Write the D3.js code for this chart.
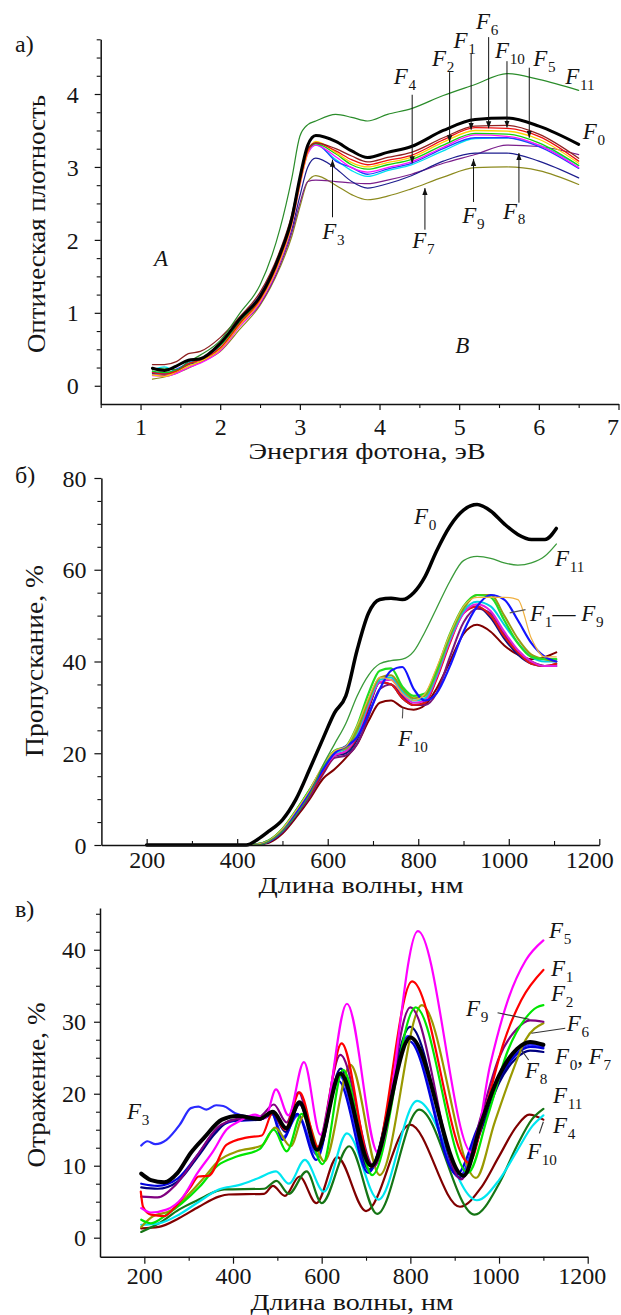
<!DOCTYPE html>
<html><head><meta charset="utf-8">
<script src="https://cdn.jsdelivr.net/npm/d3@7/dist/d3.min.js"></script>
<style>
html,body{margin:0;padding:0;background:#fff;}
svg{display:block;}
</style></head>
<body>
<svg id="chart" width="621" height="1315"></svg>
<script>
// ================= Panel а: optical density vs photon energy =================
const aEnergy = [1.15,1.3,1.45,1.6,1.75,2.0,2.25,2.5,2.75,2.9,3.0,3.1,3.2,3.45,3.65,3.85,4.1,4.4,4.8,5.2,5.6,6.0,6.5];
const aF0  = [0.24,0.21,0.27,0.35,0.37,0.58,0.92,1.22,1.8,2.3,2.85,3.3,3.43,3.35,3.22,3.13,3.2,3.28,3.5,3.65,3.67,3.56,3.31];
const aF11 = [0.22,0.24,0.22,0.33,0.42,0.62,1.0,1.38,2.15,2.85,3.42,3.58,3.63,3.72,3.68,3.63,3.72,3.8,3.98,4.13,4.28,4.2,4.05];
const aF10 = [0.29,0.29,0.33,0.44,0.47,0.66,0.95,1.28,1.85,2.35,2.85,3.25,3.33,3.25,3.15,3.07,3.13,3.2,3.4,3.56,3.57,3.45,3.12];
const aF1  = [0.18,0.16,0.2,0.3,0.35,0.52,0.86,1.18,1.75,2.25,2.78,3.22,3.33,3.22,3.1,3.03,3.09,3.16,3.37,3.54,3.53,3.42,3.08];
const aF6  = [0.15,0.13,0.19,0.27,0.33,0.5,0.84,1.16,1.72,2.22,2.75,3.2,3.35,3.2,3.06,3.0,3.06,3.13,3.34,3.5,3.49,3.38,3.05];
const aF2  = [0.2,0.18,0.21,0.3,0.36,0.55,0.88,1.2,1.76,2.27,2.8,3.22,3.32,3.18,3.03,2.97,3.03,3.1,3.3,3.46,3.45,3.33,3.02];
const aF5  = [0.14,0.13,0.17,0.25,0.31,0.48,0.82,1.14,1.7,2.2,2.74,3.18,3.3,3.14,2.99,2.93,2.99,3.07,3.27,3.44,3.42,3.3,2.99];
const aF4  = [0.22,0.26,0.2,0.33,0.36,0.56,0.9,1.2,1.77,2.26,2.78,3.2,3.3,3.1,2.95,2.87,2.95,3.03,3.22,3.39,3.4,3.3,3.02];
const aF3  = [0.19,0.17,0.23,0.31,0.36,0.55,0.92,1.25,1.82,2.3,2.8,3.22,3.32,3.08,2.99,2.9,2.97,3.05,3.25,3.4,3.4,3.28,2.98];
const aF8  = [0.17,0.16,0.2,0.29,0.33,0.5,0.85,1.15,1.7,2.15,2.6,3.0,3.12,2.98,2.8,2.71,2.77,2.88,3.08,3.19,3.19,3.08,2.85];
const aF9  = [0.15,0.14,0.18,0.27,0.32,0.5,0.82,1.12,1.65,2.1,2.5,2.8,2.82,2.8,2.78,2.77,2.82,2.9,3.05,3.17,3.3,3.28,3.17];
const aF7  = [0.09,0.12,0.17,0.24,0.32,0.47,0.78,1.1,1.62,2.05,2.45,2.8,2.88,2.75,2.62,2.55,2.6,2.7,2.86,2.99,3.0,2.95,2.76];
const aXTicks = [1,2,3,4,5,6,7];
const aYTicks = [0,1,2,3,4];

// ================= Panel б: transmission vs wavelength =================
const bWave = [200,420,445,470,500,530,560,590,615,640,665,690,715,740,765,790,815,840,870,900,930,960,990,1020,1050,1080,1105];
const bF0  = [0,0,1.2,3,5.5,10,16.5,23.3,28.8,32.5,42.5,50.5,53.5,53.8,53.5,55,58.5,64,69.5,73,74.2,72.8,70,67.7,66.6,66.6,69];
const bF11 = [0,0,0,0.8,3,6.5,11,17.5,22,26.5,32.5,37,39.5,40.2,40.5,42.2,46.5,51.5,57.5,62,62.9,62.5,61.5,61,61.5,63,65.6];
const bF2  = [0,0,0.2,1,3.5,7.5,12,17,20.5,21.5,26,33,38,38.5,34.5,32.5,33,38,46,52,54.5,54,49,44,41,40.5,40.5];
const bF3  = [0,0,0.1,0.8,3,7,11.5,16.5,20,21.5,23.5,28.5,34,38,38.8,34,31.5,33,39,46.5,52,54.5,53.5,49,44,41,40];
const bF6  = [0,0,0.2,1,3.5,7.5,12,17.5,20.5,21.5,26,32,36.5,36,33,31.5,33,38.5,46,52,54,54,54,53.5,45,41,41];
const bF7  = [0,0,0.2,1,3.5,7.5,12,17,20.5,21,25,31.5,36.5,37,34,32,32.5,37.5,45.5,51.5,54.5,54.5,50,45,41.5,40.5,40];
const bF4  = [0,0,0.2,1,3.5,7.5,12,17,20,21,24.5,31,36,36.5,33.5,31.5,32,37,45,51,53,52,48,44,41,40,40];
const bF5  = [0,0,0.1,0.8,3.2,7,11.5,16.5,19.5,20.5,24,30.5,35.5,36,33,31,31.5,36.5,44.5,50.5,52.5,51,46.5,42.5,40,39,39];
const bF1  = [0,0,0.1,0.8,3,6.8,11,16,19.5,20.5,23.5,30,35.5,35,32,30.5,31,36,44,50.5,52,50,45.5,42,39.5,39,39.5];
const bF8  = [0,0,0.1,0.7,3,6.5,11,16,19.5,20,23,29.5,35.5,35,32,30.5,31,36.5,44.5,51,52,49.5,45,41.5,39.5,39,39];
const bF9  = [0,0,0.1,0.7,2.8,6.5,10.5,15.5,19,19.5,22,28,34,35,32.5,30.5,30.5,33,41,48.5,51.5,50.5,46,42,40,39,39.5];
const bF10 = [0,0,0.1,0.5,2.5,6,10,14.5,16.5,19,22,27,31,31.5,30,29.5,30.5,34,40,46,48,46.5,43.5,41.5,40.5,41,42];
const bXTicks = [200,400,600,800,1000,1200];
const bYTicks = [0,20,40,60,80];

// ================= Panel в: reflection vs wavelength ([nm, %]) =================
const cF5  = [[193,4.1],[215,3.5],[250,3.9],[285,5.5],[320,9],[355,12],[385,15],[415,16.2],[450,17.1],[472,16.6],[497,20.6],[525,17],[560,24.4],[597,14.3],[657,32.5],[727,11.8],[817,42.6],[939,11.8],[980,24],[1020,33],[1060,38.5],[1100,41.3]];
const cF1  = [[192,6.4],[197,4.3],[215,3.2],[245,3],[270,4.3],[305,7.1],[322,8.5],[345,8.6],[385,12.9],[430,13.9],[465,14.2],[490,17.4],[517,15],[550,20.2],[592,12.6],[645,27],[713,9.9],[804,35.6],[932,10.4],[970,18],[1010,27],[1050,33],[1100,37.2]];
const cF2  = [[193,2.5],[215,2],[250,3.2],[285,4.8],[325,7.1],[365,10],[410,11.3],[460,12.3],[492,15],[521,12],[555,17.2],[602,10.2],[648,23.3],[714,8.7],[812,32],[930,9],[975,17],[1020,26],[1060,30.5],[1085,32],[1100,32.3]];
const cF6  = [[193,1.5],[215,2.8],[260,3.8],[300,6],[330,8],[370,10.8],[410,12],[465,12.8],[495,15.3],[530,12.7],[560,17],[606,10.6],[665,24],[731,8.7],[826,32.3],[948,8.3],[990,16],[1030,23],[1060,27.5],[1100,29.8]];
const cF9  = [[193,5.7],[230,5.6],[270,7.3],[320,11.5],[365,15.3],[410,16.5],[460,16.8],[492,18.5],[521,16],[548,20.2],[588,12.2],[642,25.4],[718,9.9],[800,32],[915,8.1],[960,17],[1000,25],[1040,29],[1070,30.2],[1100,30]];
const cF0  = [[193,8.9],[215,8],[245,7.7],[275,9],[305,11.8],[335,13.9],[375,16.4],[410,16.9],[460,16.5],[490,17.5],[520,15.2],[550,18.8],[590,12.2],[642,22.8],[712,10],[800,27.8],[920,8.6],[960,16],[1000,22.5],[1040,26.2],[1070,27.2],[1100,26.8]];
const cF8  = [[193,7],[230,6.8],[275,7.8],[320,11.2],[360,14.5],[395,16.3],[460,16.4],[490,17.2],[518,14.7],[550,18.5],[590,12.3],[643,23.5],[707,9.5],[800,29.3],[915,8.2],[960,15],[1000,21.5],[1040,25],[1070,26],[1100,25.8]];
const cF7  = [[193,7.5],[230,7.2],[275,8.2],[320,11.5],[360,14.8],[400,16.2],[460,16.4],[487,17.3],[512,13.6],[545,17.2],[588,10.8],[638,21.8],[705,9],[797,27.3],[905,8.8],[950,15],[1000,22],[1040,25.5],[1070,26.5],[1100,26.3]];
const cF3  = [[193,12.8],[207,13.4],[225,13],[250,13.6],[280,15.7],[305,18],[322,18.2],[340,17.8],[362,18.4],[378,18.3],[405,17.3],[440,16.8],[470,16.6],[488,17.2],[513,14],[546,17],[590,11.5],[640,22.5],[708,9.3],[795,28],[910,8.4],[955,15.5],[1000,22.5],[1040,25.8],[1070,26.8],[1100,26.5]];
const cF11 = [[193,1.8],[233,2],[278,3.2],[323,5],[368,6.7],[413,7.3],[458,8.3],[497,9.2],[526,7.5],[562,10.8],[605,6.4],[657,14.5],[728,5.3],[815,19],[950,5.2],[1000,8],[1040,12],[1075,15.5],[1100,17]];
const cF4  = [[193,0.8],[233,2],[278,3.9],[323,5.3],[360,6.4],[380,6.7],[470,6.8],[498,7.9],[526,6.1],[566,9.2],[600,4.8],[662,12.7],[725,3.3],[820,17.8],[945,3.2],[1000,7.5],[1040,12.7],[1075,16.5],[1100,17.9]];
const cF10 = [[193,1.3],[233,1.5],[278,2.7],[323,4.3],[368,5.7],[390,6],[470,6.1],[490,7.2],[517,5.8],[550,8.5],[588,4.8],[635,11.2],[700,3.7],[799,15.7],[912,4.3],[960,7],[1000,11.3],[1040,15.5],[1068,17.1],[1100,16.4]];
const cXTicks = [200,400,600,800,1000,1200];
const cYTicks = [0,10,20,30,40];

// ================= drawing =================
const FONT = '"Liberation Serif", serif';
const FS_TICK = 24;
const FS_LAB  = 23;
const svg = d3.select("#chart");
const TXT = "#151515";

const defs = svg.append("defs");
defs.append("marker").attr("id","ah").attr("viewBox","0 0 10 10")
  .attr("refX",10).attr("refY",5).attr("markerWidth",7).attr("markerHeight",7)
  .attr("markerUnits","userSpaceOnUse").attr("orient","auto")
  .append("path").attr("d","M0,1.2 L10,5 L0,8.8 z").attr("fill","#111");

function styleAxis(g, fs){
  g.attr("font-family",null);
  g.selectAll("text").style("font-family",FONT).style("font-size",fs+"px").attr("fill",TXT);
  g.select(".domain").attr("stroke","#111").attr("stroke-width",1.5);
  g.selectAll(".tick line").attr("stroke","#111").attr("stroke-width",1.2);
}
function bottomAxis(x, yPos, major, minor, majSize, minSize, labelOff, fs, shift){
  svg.append("g").attr("transform",`translate(0,${yPos})`)
    .call(d3.axisBottom(x).tickValues(minor).tickSizeInner(minSize).tickSizeOuter(0).tickFormat(""))
    .call(g=>{g.select(".domain").remove(); g.selectAll(".tick line").attr("stroke","#111").attr("stroke-width",1.1);});
  svg.append("g").attr("transform",`translate(0,${yPos})`)
    .call(d3.axisBottom(x).tickValues(major).tickSizeInner(majSize).tickSizeOuter(0).tickFormat(d3.format("d")))
    .call(g=>{styleAxis(g,fs); g.selectAll(".tick text").attr("y",labelOff).attr("dy",null)
      .attr("dx",d=>(shift&&shift[d])||0);});
}
function leftAxis(y, xPos, major, minor, majSize, minSize, labelOff, fs){
  svg.append("g").attr("transform",`translate(${xPos},0)`)
    .call(d3.axisLeft(y).tickValues(minor).tickSizeInner(minSize).tickSizeOuter(0).tickFormat(""))
    .call(g=>{g.select(".domain").remove(); g.selectAll(".tick line").attr("stroke","#111").attr("stroke-width",1.1);});
  svg.append("g").attr("transform",`translate(${xPos},0)`)
    .call(d3.axisLeft(y).tickValues(major).tickSizeInner(majSize).tickSizeOuter(0).tickFormat(d3.format("d")))
    .call(g=>{styleAxis(g,fs); g.selectAll(".tick text").attr("x",-labelOff).attr("dy","0.34em");});
}
function drawSeries(pts, x, y, color, w){
  const line = d3.line().x(d=>x(d[0])).y(d=>y(d[1])).curve(d3.curveMonotoneX);
  svg.append("path").datum(pts).attr("d",line).attr("fill","none")
    .attr("stroke",color).attr("stroke-width",w).attr("stroke-linejoin","round").attr("stroke-linecap","round");
}
function zip(xs, ys){ return xs.map((v,i)=>[v,ys[i]]); }
function fLabel(px, py, parts, fs){
  const t = svg.append("text").attr("x",px).attr("y",py)
    .style("font-family",FONT).style("font-size",fs+"px").attr("fill",TXT);
  let low=false;
  parts.forEach(([txt,type])=>{
    const sp=t.append("tspan").text(txt);
    if(type==="s"){ sp.style("font-size",(fs*0.66)+"px").attr("dy",fs*0.25).attr("dx",fs*0.03); low=true; }
    else { if(type==="F") sp.style("font-style","italic"); if(low){ sp.attr("dy",-fs*0.25); low=false; } }
  });
}
function arrow(x1,y1,x2,y2){
  svg.append("line").attr("x1",x1).attr("y1",y1).attr("x2",x2).attr("y2",y2)
    .attr("stroke","#111").attr("stroke-width",1).attr("marker-end","url(#ah)");
}
function leader(x1,y1,x2,y2,col){
  svg.append("line").attr("x1",x1).attr("y1",y1).attr("x2",x2).attr("y2",y2)
    .attr("stroke",col||"#333").attr("stroke-width",1.1);
}
function title(txt, cx, cy, len, fs, rot){
  const t = svg.append("text").style("font-family",FONT).style("font-size",fs+"px").attr("fill",TXT)
    .attr("text-anchor","middle").attr("textLength",len).attr("lengthAdjust","spacingAndGlyphs").text(txt);
  if(rot){ t.attr("transform",`translate(${cx},${cy}) rotate(-90)`).attr("dy","0.35em"); }
  else { t.attr("x",cx).attr("y",cy); }
}
function plain(txt, px, py, fs, italic){
  const t=svg.append("text").attr("x",px).attr("y",py).style("font-family",FONT).style("font-size",fs+"px").attr("fill",TXT).text(txt);
  if(italic) t.style("font-style","italic");
}

// ---------- Panel а ----------
const xA = d3.scaleLinear().domain([0.5,7]).range([100.7,618.5]);
const yA = d3.scaleLinear().domain([-0.25,4.75]).range([404,39.3]);
[[aF7,"#8c8a1e",1.2],[aF9,"#7b1f8c",1.2],[aF8,"#1d1d8e",1.2],[aF4,"#00e2f0",1.3],[aF3,"#2040ff",1.3],
 [aF5,"#ff10ff",1.3],[aF2,"#10d010",1.3],[aF6,"#ffd000",1.3],[aF1,"#ee1010",1.3],[aF10,"#8e2020",1.3],
 [aF11,"#2a8c2a",1.2],[aF0,"#000",3]].forEach(([v,c,w])=>drawSeries(zip(aEnergy,v),xA,yA,c,w));
bottomAxis(xA, 404, aXTicks, d3.range(0.5,7,0.5).filter(v=>v%1!==0), 6, 4, 31, FS_TICK, {7:-6});
leftAxis(yA, 100.7, aYTicks, d3.range(0.25,4.8,0.25).filter(v=>v%1!==0), 6, 4, 22, FS_TICK);
title("Энергия фотона, эВ", 367, 459, 237, 24, false);
title("Оптическая плотность", 36, 224, 258, 25, true);
plain("а)", 15, 52, 24, false);
const aAnno = [
  {s:"4", lx:4.18, ly:4.137, ax:4.41, a0:3.99, a1:3.05},
  {s:"2", lx:4.66, ly:4.384, ax:4.88, a0:4.30, a1:3.34},
  {s:"1", lx:4.93, ly:4.63,  ax:5.15, a0:4.56, a1:3.51},
  {s:"6", lx:5.21, ly:4.89,  ax:5.37, a0:4.78, a1:3.53},
  {s:"10",lx:5.45, ly:4.49,  ax:5.60, a0:4.45, a1:3.54},
  {s:"5", lx:5.93, ly:4.38,  ax:5.88, a0:4.36, a1:3.40},
  {s:"11",lx:6.33, ly:4.14},
  {s:"0", lx:6.55, ly:3.38},
  {s:"3", lx:3.28, ly:2.01,  ax:3.41, a0:2.31, a1:3.10},
  {s:"7", lx:4.41, ly:1.89,  ax:4.57, a0:2.14, a1:2.71},
  {s:"9", lx:5.04, ly:2.23,  ax:5.18, a0:2.52, a1:3.11},
  {s:"8", lx:5.55, ly:2.29,  ax:5.75, a0:2.51, a1:3.19}
];
aAnno.forEach(d=>{
  fLabel(xA(d.lx), yA(d.ly), [["F","F"],[d.s,"s"]], FS_LAB);
  if(d.ax!==undefined) arrow(xA(d.ax), yA(d.a0), xA(d.ax), yA(d.a1));
});
plain("A", xA(1.17), yA(1.64), FS_LAB, true);
plain("B", xA(4.95), yA(0.45), FS_LAB, true);

// ---------- Panel б ----------
const xB = d3.scaleLinear().domain([100,1200]).range([101.4,599.3]);
const yB = d3.scaleLinear().domain([0,80]).range([845,478]);
[[bF10,"#800000",2],[bF9,"#7a157a",2],[bF8,"#12127e",2],[bF1,"#e01515",2],[bF5,"#e020e0",2],
 [bF4,"#00d0e0",2],[bF7,"#9a9a12",2],[bF2,"#22dd22",2.2],[bF3,"#1414ff",2.2],[bF6,"#f0b040",1.2],
 [bF11,"#3a9a3a",1.3],[bF0,"#000",3.5]].forEach(([v,c,w])=>drawSeries(zip(bWave,v),xB,yB,c,w));
bottomAxis(xB, 845, bXTicks, [300,500,700,900,1100], -6, -4, 23, FS_TICK, {1000:-5,1200:-10});
leftAxis(yB, 101.4, bYTicks, d3.range(5,80,5).filter(v=>v%20!==0), 7, 4, 15, FS_TICK);
title("Длина волны, нм", 361, 893, 205, 24, false);
title("Пропускание, %", 34, 661, 192, 25, true);
plain("б)", 15, 483, 24, false);
fLabel(xB(790.7), yB(69.97), [["F","F"],["0","s"]], FS_LAB);
fLabel(xB(1102), yB(60.8), [["F","F"],["11","s"]], FS_LAB);
fLabel(xB(1047), yB(48.8), [["F","F"],["1","s"],["— ","t"],["F","F"],["9","s"]], FS_LAB);
leader(xB(1002), yB(50.6), xB(1037), yB(51.3), "#555");
fLabel(xB(755), yB(21.6), [["F","F"],["10","s"]], FS_LAB);
leader(xB(766), yB(29.9), xB(765), yB(27.6), "#555");

// ---------- Panel в ----------
const xC = d3.scaleLinear().domain([100,1200]).range([100,587.7]);
const yC = d3.scaleLinear().domain([-2.64,45.8]).range([1256.7,908]);
[[cF10,"#800000"],[cF4,"#157515"],[cF11,"#00e6f0"],[cF3,"#2a2aff"],[cF7,"#0000dd"],[cF8,"#000080"],
 [cF6,"#999900"],[cF9,"#800080"],[cF2,"#00e600"],[cF1,"#ff0000"],[cF5,"#ff00ff"]]
 .forEach(([v,c])=>drawSeries(v,xC,yC,c,2.2));
drawSeries(cF0,xC,yC,"#000",4);
bottomAxis(xC, 1256.7, cXTicks, [300,500,700,900,1100], 7, 4, 27, FS_TICK, {1000:-4,1200:-6});
leftAxis(yC, 100, cYTicks, d3.range(2.5,46,2.5).filter(v=>v%10!==0), 6, 4, 14, FS_TICK);
title("Длина волны, нм", 352, 1309.5, 203, 23, false);
title("Отражение, %", 36, 1085, 165, 25, true);
plain("в)", 15, 917, 24, false);
fLabel(xC(1112.6), yC(41.63), [["F","F"],["5","s"]], FS_LAB);
fLabel(xC(1117), yC(36.35), [["F","F"],["1","s"]], FS_LAB);
fLabel(xC(1117), yC(32.88), [["F","F"],["2","s"]], FS_LAB);
fLabel(xC(925.4), yC(30.8), [["F","F"],["9","s"]], FS_LAB);
leader(xC(996.7), yC(31.25), xC(1068.6), yC(30.33));
fLabel(xC(1153), yC(28.71), [["F","F"],["6","s"]], FS_LAB);
leader(xC(1149.4), yC(29.09), xC(1073), yC(28.39));
fLabel(xC(1126), yC(24.13), [["F","F"],["0","s"],[", ","t"],["F","F"],["7","s"]], FS_LAB);
fLabel(xC(1058.5), yC(22.18), [["F","F"],["8","s"]], FS_LAB);
leader(xC(1050.6), yC(26.07), xC(1066.8), yC(24.68));
fLabel(xC(1121.6), yC(18.71), [["F","F"],["11","s"]], FS_LAB);
fLabel(xC(1121.6), yC(14.54), [["F","F"],["4","s"]], FS_LAB);
leader(xC(1100), yC(16.11), xC(1091), yC(14.5));
fLabel(xC(1063), yC(10.93), [["F","F"],["10","s"]], FS_LAB);
fLabel(xC(160.9), yC(16.49), [["F","F"],["3","s"]], FS_LAB);
</script>
</body></html>
